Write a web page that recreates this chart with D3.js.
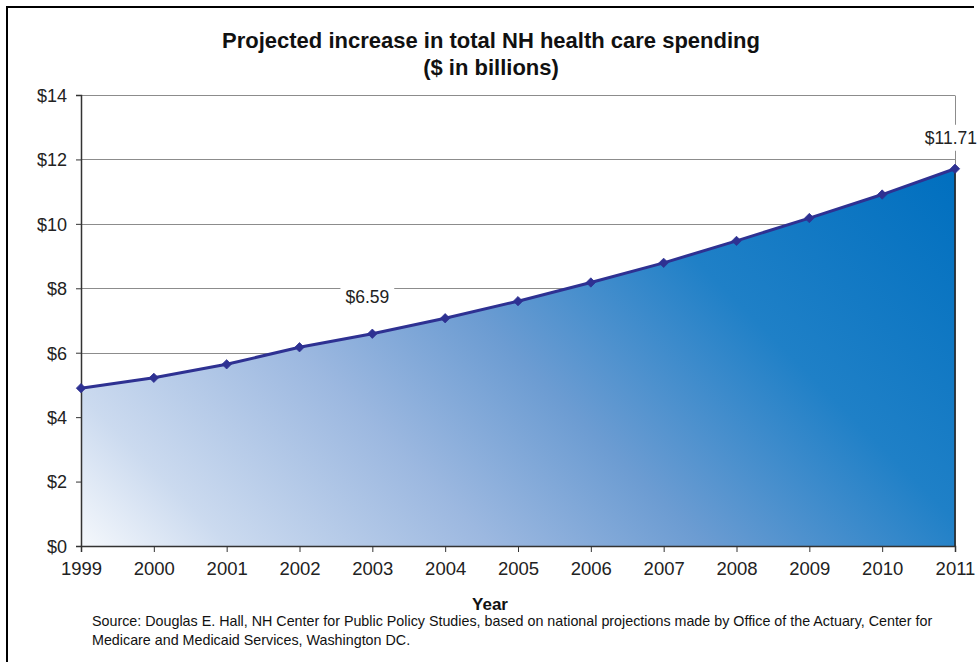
<!DOCTYPE html>
<html>
<head>
<meta charset="utf-8">
<script src="https://cdn.jsdelivr.net/npm/d3@7"></script>
<style>
  html, body { margin: 0; padding: 0; background: #fff; }
  svg { display: block; font-family: "Liberation Sans", Arial, sans-serif; }
</style>
</head>
<body>
<svg id="chart" width="979" height="662"></svg>
<script>
// Projected total NH health care spending, $ billions
const years = [1999, 2000, 2001, 2002, 2003, 2004, 2005, 2006, 2007, 2008, 2009, 2010, 2011];
const spending = [4.90, 5.22, 5.64, 6.17, 6.59, 7.07, 7.60, 8.18, 8.79, 9.47, 10.18, 10.91, 11.71];
const yTicks = [0, 2, 4, 6, 8, 10, 12, 14];
const labelledYears = [2003, 2011];

const titleLines = ["Projected increase in total NH health care spending", "($ in billions)"];
const xTitle = "Year";
const sourceLines = [
  "Source: Douglas E. Hall, NH Center for Public Policy Studies, based on national projections made by Office of the Actuary, Center for",
  "Medicare and Medicaid Services, Washington DC."
];

const svg = d3.select("#chart");
const plotLeft = 81, plotRight = 955, plotTop = 95, plotBottom = 546;

const x = d3.scaleLinear().domain([years[0], years[years.length - 1]]).range([plotLeft, plotRight]);
const y = d3.scaleLinear().domain([0, 14]).range([plotBottom, plotTop]);

// Outer frame (top and left edges)
svg.append("path").attr("d", "M7,662V7H974")
  .attr("fill", "none").attr("stroke", "#000").attr("stroke-width", 2);

// Gradient fill for the area
const defs = svg.append("defs");
const grad = defs.append("linearGradient").attr("id", "areaFill")
  .attr("gradientUnits", "userSpaceOnUse")
  .attr("x1", plotLeft).attr("y1", plotBottom).attr("x2", plotLeft + 625).attr("y2", plotBottom - 625);
[[0, "#f5f8fc"], [0.12, "#cbdaef"], [0.33, "#9cb8e0"], [0.5, "#6c9cd2"], [0.72, "#1f80c7"], [1, "#006fbf"]]
  .forEach(([o, c]) => grad.append("stop").attr("offset", o).attr("stop-color", c));

// Gridlines
svg.append("g").selectAll("line").data(yTicks.filter(d => d > 0)).join("line")
  .attr("x1", plotLeft).attr("x2", plotRight)
  .attr("y1", d => Math.round(y(d)) + 0.5).attr("y2", d => Math.round(y(d)) + 0.5)
  .attr("stroke", "#8c8c8c").attr("stroke-width", 1);
// Right edge of plot area
svg.append("line").attr("x1", plotRight + 0.5).attr("x2", plotRight + 0.5)
  .attr("y1", Math.round(y(14)) + 0.5).attr("y2", plotBottom)
  .attr("stroke", "#8c8c8c");

const pts = years.map((yr, i) => ({ yr, v: spending[i] }));

// Area
svg.append("path").datum(pts)
  .attr("d", d3.area().x(d => x(d.yr)).y0(y(0)).y1(d => y(d.v)))
  .attr("fill", "url(#areaFill)");
// Dark edge on the right side of the area
svg.append("line").attr("x1", plotRight).attr("x2", plotRight)
  .attr("y1", y(spending[spending.length - 1])).attr("y2", plotBottom)
  .attr("stroke", "#222").attr("stroke-width", 1.5);

// Axes
const yAxis = svg.append("g").attr("transform", `translate(${plotLeft},0)`)
  .call(d3.axisLeft(y).tickValues(yTicks).tickSize(5).tickPadding(9).tickFormat(d => "$" + d));
const xAxis = svg.append("g").attr("transform", `translate(0,${plotBottom})`)
  .call(d3.axisBottom(x).tickValues(years).tickSize(6).tickPadding(9).tickFormat(d3.format("d")));
[yAxis, xAxis].forEach(g => {
  g.select(".domain").attr("stroke", "#333").attr("stroke-width", 1.5);
  g.selectAll(".tick line").attr("stroke", "#333");
  g.selectAll(".tick text").attr("fill", "#222")
    .style("font-family", '"Liberation Sans", Arial, sans-serif');
});
yAxis.selectAll(".tick text").attr("dy", "0.35em").style("font-size", "18px");
xAxis.selectAll(".tick text").attr("dy", "0.75em").style("font-size", "18.5px");

// Line and markers
const navy = "#2e3192";
svg.append("path").datum(pts)
  .attr("d", d3.line().x(d => x(d.yr)).y(d => y(d.v)))
  .attr("fill", "none").attr("stroke", navy).attr("stroke-width", 3);
svg.append("g").selectAll("path").data(pts).join("path")
  .attr("transform", d => `translate(${x(d.yr)},${y(d.v)})`)
  .attr("d", d3.symbol(d3.symbolDiamond2, 56)())
  .attr("fill", navy).attr("stroke", navy).attr("stroke-width", 0.8);

// Value labels on a white backing; the last one is kept inside the page edge
const labelOffsets = { 2003: 31, 2011: 25 };
labelledYears.forEach(yr => {
  const i = years.indexOf(yr);
  const v = spending[i];
  const last = i === years.length - 1;
  const lx = last ? 977 : x(yr) - 5;
  const by = y(v) - labelOffsets[yr];
  const g = svg.append("g");
  const t = g.append("text").attr("x", lx).attr("y", by)
    .attr("text-anchor", last ? "end" : "middle")
    .attr("fill", "#222").style("font-size", "17.5px").text("$" + v.toFixed(2));
  const bb = t.node().getBBox();
  g.insert("rect", "text").attr("x", bb.x - 5).attr("y", bb.y - 3)
    .attr("width", bb.width + 10).attr("height", bb.height + 6).attr("fill", "#fff");
});

// Titles
svg.append("text").attr("x", 491).attr("text-anchor", "middle")
  .style("font-size", "22px").style("font-weight", "bold").attr("fill", "#111")
  .selectAll("tspan").data(titleLines).join("tspan")
  .attr("x", 491).attr("y", (d, i) => 48 + i * 27).text(d => d);

svg.append("text").attr("x", 490).attr("y", 610).attr("text-anchor", "middle")
  .style("font-size", "17px").style("font-weight", "bold").attr("fill", "#111").text(xTitle);

svg.append("g").selectAll("text").data(sourceLines).join("text")
  .attr("x", 92).attr("y", (d, i) => 626 + i * 19)
  .style("font-size", "14.3px").attr("fill", "#111").text(d => d);
</script>
</body>
</html>
